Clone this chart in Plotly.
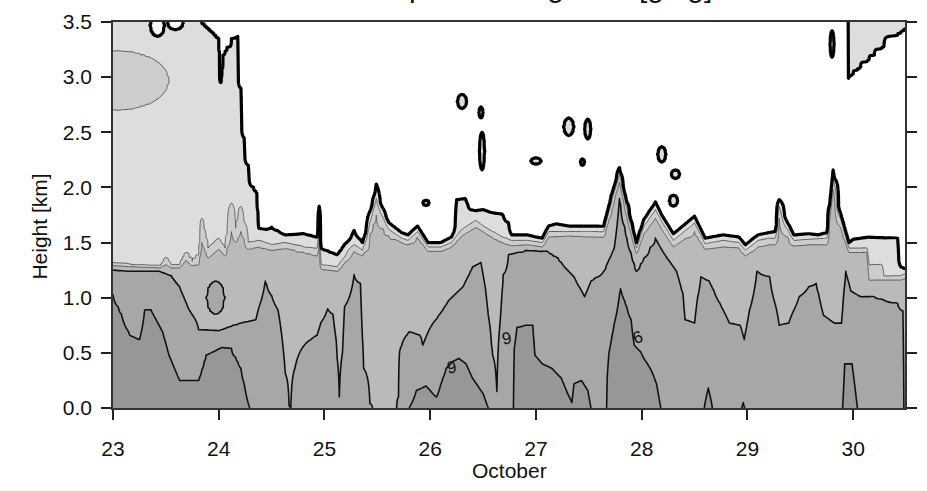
import numpy as np
import plotly.graph_objects as go

# ---- contour heights (time in days of October, height in km) ----
# thick line: boundary between white (< 2 g/kg) and light band
t0 = [23.0, 23.82, 23.84, 23.95, 24.0, 24.02, 24.04, 24.12, 24.18, 24.21, 24.24, 24.28, 24.33, 24.36, 24.38,
      24.45, 24.5, 24.63, 24.81, 24.93, 24.95, 24.97, 25.12, 25.28, 25.36, 25.49, 25.56, 25.61, 25.73, 25.79,
      25.88, 25.98, 26.1, 26.2, 26.22, 26.25, 26.33, 26.38, 26.43, 26.5, 26.59, 26.68, 26.74, 26.77, 26.92,
      27.0, 27.06, 27.12, 27.19, 27.31, 27.56, 27.64, 27.72, 27.79, 27.84, 27.9, 27.95, 28.02, 28.13, 28.19,
      28.3, 28.5, 28.6, 28.77, 28.92, 28.98, 29.1, 29.2, 29.26, 29.3, 29.38, 29.44, 29.58, 29.67, 29.75,
      29.81, 29.88, 29.96, 30.0, 30.14, 30.42, 30.45, 30.5]
h0 = [4.0, 4.0, 3.5, 3.4, 3.35, 2.95, 3.2, 3.35, 3.37, 2.9, 2.45, 2.2, 2.0, 1.95, 1.63,
      1.62, 1.64, 1.57, 1.58, 1.55, 1.83, 1.45, 1.39, 1.61, 1.5, 2.03, 1.8, 1.68, 1.59, 1.57,
      1.65, 1.5, 1.5, 1.55, 1.59, 1.89, 1.9, 1.8, 1.79, 1.8, 1.77, 1.76, 1.68, 1.57, 1.57,
      1.55, 1.54, 1.65, 1.67, 1.65, 1.65, 1.65, 1.95, 2.18, 1.95, 1.7, 1.5, 1.71, 1.87, 1.75,
      1.58, 1.74, 1.54, 1.57, 1.55, 1.48, 1.57, 1.59, 1.6, 1.89, 1.68, 1.57, 1.58, 1.57, 1.59,
      2.16, 1.77, 1.5, 1.53, 1.55, 1.54, 1.28, 1.26]

# lower edge of the moist layer seen in the upper right corner (above it: > 2 g/kg again)
tu = [29.0, 29.945, 29.955, 30.2, 30.5]
hu = [9.0, 9.0, 2.99, 3.2, 3.44]

# level 3 line (light -> lighter grey)
t1 = [23.0, 23.2, 23.45, 23.5, 23.55, 23.63, 23.69, 23.75, 23.81, 23.84, 23.9, 24.0, 24.06, 24.12, 24.16,
      24.21, 24.28, 24.38, 24.5, 24.63, 24.81, 24.93, 24.95, 24.97, 25.12, 25.28, 25.36, 25.49, 25.56, 25.61,
      25.73, 25.79, 25.88, 25.98, 26.1, 26.2, 26.3, 26.43, 26.55, 26.68, 26.77, 26.92, 27.06, 27.12, 27.31,
      27.56, 27.64, 27.72, 27.79, 27.84, 27.9, 27.95, 28.02, 28.13, 28.19, 28.3, 28.5, 28.6, 28.77, 28.92,
      28.98, 29.1, 29.2, 29.26, 29.3, 29.38, 29.44, 29.58, 29.75, 29.81, 29.88, 29.96, 30.13, 30.15, 30.27,
      30.29, 30.45, 30.5]
h1 = [1.32, 1.30, 1.29, 1.37, 1.3, 1.3, 1.41, 1.33, 1.39, 1.72, 1.45, 1.54, 1.45, 1.86, 1.63,
      1.83, 1.5, 1.52, 1.48, 1.5, 1.46, 1.45, 1.75, 1.3, 1.28, 1.48, 1.43, 1.9, 1.72, 1.62,
      1.54, 1.52, 1.6, 1.46, 1.46, 1.5, 1.62, 1.7, 1.62, 1.55, 1.52, 1.52, 1.5, 1.6, 1.6,
      1.6, 1.6, 1.9, 2.12, 1.9, 1.65, 1.45, 1.65, 1.8, 1.69, 1.52, 1.68, 1.49, 1.52, 1.5,
      1.43, 1.52, 1.54, 1.54, 1.83, 1.62, 1.52, 1.53, 1.54, 2.1, 1.72, 1.45, 1.45, 1.3, 1.3,
      1.2, 1.2, 1.22]

# level 4 line (lighter grey -> medium grey)
t2 = list(t1)
h2 = [1.29, 1.28, 1.27, 1.3, 1.27, 1.27, 1.34, 1.29, 1.3, 1.5, 1.36, 1.44, 1.38, 1.6, 1.5,
      1.6, 1.44, 1.46, 1.43, 1.45, 1.41, 1.38, 1.6, 1.26, 1.24, 1.42, 1.38, 1.75, 1.62, 1.56,
      1.5, 1.48, 1.55, 1.42, 1.42, 1.46, 1.56, 1.64, 1.57, 1.5, 1.47, 1.48, 1.46, 1.55, 1.56,
      1.55, 1.55, 1.8, 2.05, 1.8, 1.58, 1.4, 1.58, 1.72, 1.62, 1.46, 1.6, 1.44, 1.46, 1.45,
      1.38, 1.46, 1.48, 1.48, 1.72, 1.55, 1.47, 1.48, 1.48, 1.98, 1.64, 1.41, 1.41, 1.16, 1.16,
      1.16, 1.16, 1.18]

# level 6 line (medium -> dark grey)
t6 = [23.0, 23.2, 23.44, 23.55, 23.63, 23.72, 23.78, 23.81, 24.0, 24.21, 24.35, 24.44, 24.56, 24.63, 24.665,
      24.68, 24.72, 24.81, 24.87, 24.93, 24.97, 25.03, 25.08, 25.11, 25.14, 25.17, 25.19, 25.28, 25.34, 25.37,
      25.43, 25.46, 25.68, 25.7, 25.71, 25.75, 25.8, 25.9, 25.93, 25.99, 26.12, 26.18, 26.31, 26.4, 26.48,
      26.52, 26.59, 26.63, 26.66, 26.69, 26.74, 26.9, 27.11, 27.21, 27.27, 27.36, 27.46, 27.52, 27.64, 27.74,
      27.79, 27.86, 27.95, 28.02, 28.13, 28.2, 28.33, 28.39, 28.41, 28.5, 28.53, 28.56, 28.64, 28.74, 28.83,
      28.93, 28.97, 29.02, 29.09, 29.21, 29.26, 29.3, 29.39, 29.49, 29.58, 29.65, 29.72, 29.82, 29.89, 29.93,
      29.98, 30.07, 30.2, 30.29, 30.42, 30.45, 30.47, 30.48, 30.5]
h6 = [1.25, 1.24, 1.24, 1.2, 1.1, 0.89, 0.8, 0.71, 0.7, 0.77, 0.8, 1.15, 0.89, 0.31, 0.02,
      -0.05, 0.36, 0.57, 0.62, 0.66, 0.78, 0.9, 0.85, 0.62, 0.1, 0.5, 0.92, 1.21, 1.13, 0.36,
      0.04, -0.1, -0.1, 0.1, 0.51, 0.62, 0.69, 0.66, 0.57, 0.71, 0.89, 0.98, 1.1, 1.28, 1.32,
      1.1, 0.48, 0.15, 0.77, 1.21, 1.39, 1.43, 1.42, 1.36, 1.28, 1.19, 1.01, 1.15, 1.24, 1.45,
      1.9, 1.54, 1.24, 1.36, 1.54, 1.42, 1.24, 1.04, 0.8, 0.77, 1.01, 1.19, 1.15, 0.95, 0.77,
      0.75, 0.62, 0.89, 1.24, 1.19, 0.95, 0.75, 0.77, 1.01, 1.1, 1.13, 0.84, 0.77, 0.77, 1.24,
      1.06, 1.01, 1.01, 0.98, 0.95, 0.89, 0.88, -0.1, -0.1]

# level 9 line (dark -> darkest grey)
t9 = [23.0, 23.08, 23.16, 23.25, 23.3, 23.36, 23.47, 23.53, 23.63, 23.81, 23.88, 24.03, 24.12, 24.21, 24.28,
      24.37, 25.78, 25.8, 25.87, 25.96, 26.06, 26.15, 26.21, 26.27, 26.34, 26.4, 26.5, 26.55, 26.58, 26.785,
      26.795, 26.82, 26.9, 26.97, 26.99, 27.06, 27.15, 27.24, 27.3, 27.34, 27.36, 27.43, 27.49, 27.52, 27.55,
      27.665, 27.675, 27.69, 27.8, 27.9, 27.93, 27.99, 28.02, 28.08, 28.14, 28.18, 28.2, 28.58, 28.6, 28.63,
      28.66, 28.68, 28.93, 28.96, 28.99, 29.88, 29.9, 29.92, 29.99, 30.04, 30.06, 30.5]
h9 = [1.03, 0.85, 0.66, 0.62, 0.89, 0.89, 0.69, 0.48, 0.25, 0.25, 0.48, 0.55, 0.54, 0.36, 0.04,
      -0.2, -0.2, 0.0, 0.16, 0.2, 0.1, 0.36, 0.42, 0.45, 0.4, 0.27, 0.13, 0.0, -0.2, -0.2,
      0.54, 0.73, 0.75, 0.75, 0.48, 0.4, 0.36, 0.27, 0.13, 0.05, 0.22, 0.25, 0.16, 0.0, -0.2,
      -0.2, 0.3, 0.5, 1.08, 0.8, 0.57, 0.51, 0.45, 0.36, 0.22, 0.0, -0.2, -0.1, 0.05, 0.18,
      0.05, -0.1, -0.05, 0.05, -0.05, -0.1, 0.0, 0.4, 0.4, 0.0, -0.1, -0.1]

# isolated patches: centre day, centre km, half-width (days), half-height (km),
# level crossed, +1 = moister than surroundings, -1 = drier (hole)
patch_t = [26.30, 26.49, 26.48, 25.96, 27.00, 27.31, 27.49, 27.44, 28.19, 28.32, 28.30, 29.80, 23.05, 23.97, 23.42, 23.59]
patch_h = [2.78, 2.33, 2.68, 1.86, 2.24, 2.55, 2.53, 2.23, 2.30, 2.12, 1.88, 3.30, 2.97, 1.00, 3.47, 3.50]
patch_dt = [0.045, 0.025, 0.02, 0.03, 0.05, 0.05, 0.03, 0.02, 0.04, 0.04, 0.04, 0.02, 0.48, 0.09, 0.07, 0.08]
patch_dh = [0.065, 0.17, 0.05, 0.025, 0.03, 0.08, 0.09, 0.03, 0.07, 0.04, 0.05, 0.12, 0.27, 0.15, 0.10, 0.07]
patch_lev = [2, 2, 2, 2, 2, 2, 2, 2, 2, 2, 2, 2, 3, 6, 2, 2]
patch_sign = [1, 1, 1, 1, 1, 1, 1, 1, 1, 1, 1, 1, 1, 1, -1, -1]

levels = [2, 3, 4, 6, 9]          # g/kg values of the lines above
day_ticks = [23, 24, 25, 26, 27, 28, 29, 30]
height_ticks = [0.0, 0.5, 1.0, 1.5, 2.0, 2.5, 3.0, 3.5]

# ---- build the gridded field from the read contour heights ----
extra_cols = [tc + k * dt for tc, dt in zip(patch_t, patch_dt) for k in np.linspace(-1.2, 1.2, 13)]
T = np.unique(np.round(np.concatenate([t0, tu, t1, t2, t6, t9, extra_cols]), 5))
T = T[(T >= 23.0) & (T <= 30.5)]
H = np.linspace(0.0, 3.5, 701)
Z = np.zeros((H.size, T.size))
for j, t in enumerate(T):
    a0 = np.interp(t, t0, h0)
    a1 = min(np.interp(t, t1, h1), a0 - 0.01)
    a2 = min(np.interp(t, t2, h2), a1 - 0.01)
    a6 = min(np.interp(t, t6, h6), a2 - 0.01)
    a9 = min(np.interp(t, t9, h9), a6 - 0.01)
    au = max(np.interp(t, tu, hu), a0 + 0.2)
    xp = [a9 - 1.0, a9, a6, a2, a1, a0, a0 + 0.06, au - 0.06, au, au + 1.0]
    fp = [12.0, levels[4], levels[3], levels[2], levels[1], levels[0], 1.0, 1.0, levels[0], 2.6]
    Z[:, j] = np.interp(H, xp, fp)

TT, HH = np.meshgrid(T, H)
for tc, hc, dt, dh, lev, sg in zip(patch_t, patch_h, patch_dt, patch_dh, patch_lev, patch_sign):
    d = np.sqrt(((TT - tc) / dt) ** 2 + ((HH - hc) / dh) ** 2)
    if sg > 0:
        cone = np.where(d < 1.0, lev + 0.4 * (1.0 - d), lev - 10.0 * (d - 1.0))
        Z = np.maximum(Z, cone)
    else:
        cone = np.where(d < 1.0, lev - 0.4 * (1.0 - d), lev + 10.0 * (d - 1.0))
        Z = np.minimum(Z, cone)

cscale = [[0.0, '#ffffff'], [0.125, '#dddddd'], [0.25, '#cdcdcd'], [0.375, '#bababa'],
          [0.5, '#bababa'], [0.625, '#a7a7a7'], [0.875, '#a7a7a7'], [1.0, '#979797']]

fig = go.Figure()
fig.add_trace(go.Contour(x=T, y=H, z=Z, autocontour=False,
                         contours=dict(start=2, end=9, size=1, coloring='fill'),
                         colorscale=cscale, line=dict(width=0), showscale=False, hoverinfo='skip'))
fig.add_trace(go.Contour(x=T, y=H, z=Z, autocontour=False,
                         contours=dict(start=3, end=4, size=1, coloring='none'),
                         line=dict(color='#5a5a5a', width=1), showscale=False, hoverinfo='skip'))
fig.add_trace(go.Contour(x=T, y=H, z=Z, autocontour=False,
                         contours=dict(start=6, end=9, size=3, coloring='none'),
                         line=dict(color='#111111', width=1.6), showscale=False, hoverinfo='skip'))
fig.add_trace(go.Contour(x=T, y=H, z=Z, autocontour=False,
                         contours=dict(start=2, end=2.5, size=1, coloring='none'),
                         line=dict(color='#000000', width=3.2), showscale=False, hoverinfo='skip'))

font_family = 'Liberation Sans, Arial, sans-serif'
fig.update_layout(
    width=927, height=491,
    margin=dict(l=113, r=12, t=10, b=83),
    paper_bgcolor='white', plot_bgcolor='white',
    font=dict(family=font_family, size=21, color='#111111'),
    showlegend=False,
    annotations=[
        dict(text='Water vapour mixing ratio [g/kg]', xref='paper', yref='paper', x=0.49, y=1.0,
             xanchor='center', yanchor='bottom', yshift=17, showarrow=False,
             font=dict(size=30, family=font_family, color='#111111')),
        dict(text='Height [km]', xref='paper', yref='paper', x=0, y=0.47, xanchor='center', yanchor='middle',
             xshift=-73, textangle=-90, showarrow=False, font=dict(size=21, family=font_family, color='#111111')),
        dict(text='October', xref='paper', yref='paper', x=0.5, y=0, xanchor='center', yanchor='middle',
             yshift=-62, showarrow=False, font=dict(size=21, family=font_family, color='#111111')),
        dict(text='9', x=26.2, y=0.37, showarrow=False, textangle=-10, font=dict(size=17, color='#111111')),
        dict(text='9', x=26.72, y=0.63, showarrow=False, textangle=-10, font=dict(size=17, color='#111111')),
        dict(text='6', x=27.96, y=0.64, showarrow=False, textangle=-20, font=dict(size=17, color='#111111')),
    ],
)
fig.update_xaxes(range=[23, 30.49], tickvals=day_ticks, ticktext=[str(d) for d in day_ticks],
                 ticks='outside', ticklen=10, tickwidth=1.5, tickcolor='#222222',
                 showline=True, linecolor='#333333', linewidth=1.5, mirror=True,
                 showgrid=False, zeroline=False, ticklabelstandoff=11)
fig.update_yaxes(range=[0, 3.5], tickvals=height_ticks, ticktext=['%.1f' % v for v in height_ticks],
                 ticks='outside', ticklen=10, tickwidth=1.5, tickcolor='#222222',
                 showline=True, linecolor='#333333', linewidth=1.5, mirror='ticks',
                 showgrid=False, zeroline=False, ticklabelstandoff=5)

fig.write_html('out.html')
